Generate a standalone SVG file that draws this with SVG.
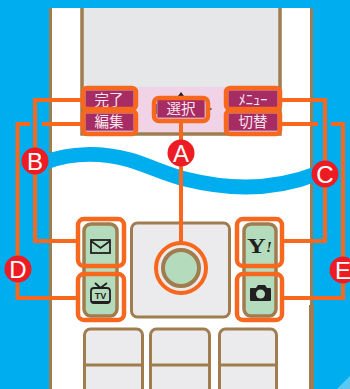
<svg xmlns="http://www.w3.org/2000/svg" width="350" height="389" viewBox="0 0 350 389">
<style>
.key{fill:#a62c63;stroke:#c9a3b5;stroke-width:1}
.kt{font-family:"Noto Sans CJK JP","Noto Sans CJK SC",sans-serif;font-size:14.500px;fill:#fbe6ee;text-anchor:middle}
.or{fill:none;stroke:#f7671d;stroke-width:4.500}
.ln{fill:none;stroke:#f7671d;stroke-width:4}
.br{stroke:#a07c4f;stroke-width:3}
.pad{fill:#ebebee}
.side{fill:#b5dbbd;stroke:#a07c4f;stroke-width:3.500}
.bt{fill:#ed1c24}
.bl{font-family:"Liberation Sans",Arial,sans-serif;font-size:24px;fill:#fff;text-anchor:middle}
</style>
<rect width="350" height="389" fill="#00aeef"/>
<polygon points="350,376 350,389 337,389" fill="#5cc8f0"/>
<rect x="50.500" y="8" width="261" height="381" fill="#fff"/>
<path d="M50.500,8V389" class="br" fill="none"/>
<path d="M311.500,8V305" class="br" fill="none"/>
<path d="M311.500,305V389" fill="none" stroke="#a07c4f" stroke-width="5"/>
<path d="M46,162C70,153 100,152 130,160C150,166 165,174 185,179C225,189 270,192 316,174" fill="none" stroke="#00aeef" stroke-width="15"/>
<g id="screen">
<rect x="82" y="6" width="198" height="128" fill="#e6e7e8" stroke="#a07c4f" stroke-width="3.500"/>
<rect x="84" y="87" width="194" height="45" fill="#f0d3e6"/>
<rect x="49" y="0" width="264" height="8" fill="#00aeef"/>
<polygon points="181,92 178,96 184,96" fill="#222"/>
<rect x="155" y="104" width="2" height="10" fill="#222"/>
<rect x="210" y="108" width="1.500" height="2" fill="#555"/>
</g>
<g id="pads">
<rect x="131.500" y="223" width="98" height="94" rx="6" class="pad br"/>
<rect x="84.500" y="329" width="58" height="80" rx="6" class="pad br"/>
<rect x="150.500" y="329" width="59" height="80" rx="6" class="pad br"/>
<rect x="219.500" y="329" width="57" height="80" rx="6" class="pad br"/>
<path d="M84,365H142M151,365H209M220,365H276" class="br" fill="none"/>
</g>
<g id="connectors">
<path d="M82,100H35V241H76" class="ln"/>
<path d="M30,124H17.500V298H76" class="ln"/>
<path d="M42,124H81" class="ln"/>
<path d="M282,100H325V241H284" class="ln"/>
<path d="M282,124H318" class="ln"/>
<path d="M331,124H343V298H284" class="ln"/>
<path d="M181,122V242" class="ln"/>
</g>
<g id="softkey-done"><rect x="85" y="90" width="49" height="18" class="key"/><text x="109" y="104.500" class="kt">完了</text><rect x="83" y="88" width="53" height="21" rx="4" class="or"/></g>
<g id="softkey-edit"><rect x="85" y="113" width="49" height="18" class="key"/><text x="109" y="127" class="kt">編集</text><rect x="83" y="111" width="53" height="23" rx="4" class="or"/></g>
<g id="softkey-select"><rect x="157" y="99" width="48" height="19" class="key"/><text x="181" y="114" class="kt">選択</text><rect x="154" y="98" width="54" height="23" rx="5" class="or"/></g>
<g id="softkey-menu"><rect x="228" y="90" width="50" height="18" class="key"/><text x="253" y="104.500" class="kt">ﾒﾆｭｰ</text><rect x="226" y="88" width="54" height="21" rx="4" class="or"/></g>
<g id="softkey-switch"><rect x="228" y="113" width="50" height="18" class="key"/><text x="253" y="127" class="kt">切替</text><rect x="226" y="111" width="54" height="23" rx="4" class="or"/></g>
<g id="left-keys">
<rect x="84" y="224" width="33" height="92" rx="7" class="side"/>
<rect x="78" y="219" width="46" height="47" rx="6" class="or"/>
<rect x="78" y="274" width="46" height="46" rx="6" class="or"/>
<rect x="91" y="240" width="19" height="13" fill="none" stroke="#231f20" stroke-width="1.800"/>
<path d="M91,241L100.500,248L110,241" fill="none" stroke="#231f20" stroke-width="1.800"/>
<path d="M95,283L100.500,288L107,283" fill="none" stroke="#231f20" stroke-width="1.800"/>
<rect x="91" y="288" width="19" height="15" rx="3" fill="none" stroke="#231f20" stroke-width="1.800"/>
<path d="M91,301H110L108,303.500V304H93V303.500Z" fill="#231f20"/>
<text x="100.500" y="299" font-family="Liberation Sans,sans-serif" font-size="9" font-weight="bold" fill="#231f20" text-anchor="middle">TV</text>
</g>
<g id="right-keys">
<rect x="244" y="224" width="32" height="92" rx="7" class="side"/>
<rect x="237" y="219" width="45" height="47" rx="6" class="or"/>
<rect x="237" y="274" width="45" height="46" rx="6" class="or"/>
<text transform="translate(247,253) scale(1.300,1)" font-family="Liberation Serif,serif" font-size="20" font-weight="bold" fill="#231f20">Y</text>
<text x="266" y="252" font-family="Liberation Serif,serif" font-size="15" font-weight="bold" font-style="italic" fill="#231f20">!</text>
<path d="M250,289Q250,288 251,288H256L258,285H265L267,288H270Q271,288 271,289V300Q271,301 270,301H251Q250,301 250,300Z" fill="#231f20"/>
<circle cx="260.500" cy="294" r="4.500" fill="#b5dbbd"/>
</g>
<g id="center-key">
<circle cx="181" cy="268" r="18" fill="#b5dbbd" stroke="#a07c4f" stroke-width="4"/>
<circle cx="181" cy="268" r="25" fill="none" stroke="#f7671d" stroke-width="4"/>
</g>
<g id="badge-a"><circle cx="181" cy="153" r="13.500" class="bt"/><text x="181" y="162" class="bl">A</text></g>
<g id="badge-b"><circle cx="35" cy="161" r="13.500" class="bt"/><text x="35" y="170" class="bl">B</text></g>
<g id="badge-c"><circle cx="325" cy="174" r="13.500" class="bt"/><text x="325" y="183" class="bl">C</text></g>
<g id="badge-d"><circle cx="18" cy="269" r="13.500" class="bt"/><text x="18" y="278" class="bl">D</text></g>
<g id="badge-e"><circle cx="343" cy="270" r="13.500" class="bt"/><text x="343" y="279" class="bl">E</text></g>
</svg>
